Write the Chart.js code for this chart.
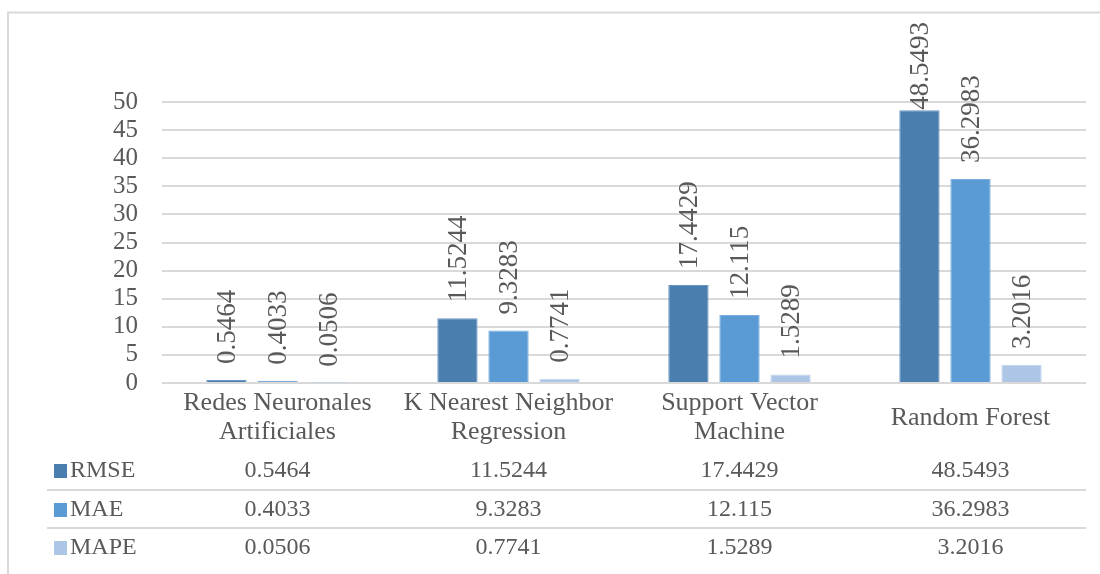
<!DOCTYPE html>
<html>
<head>
<meta charset="utf-8">
<script src="https://cdn.jsdelivr.net/npm/chart.js@4.4.1/dist/chart.umd.min.js"></script>
<style>
  html, body { margin: 0; padding: 0; background: #ffffff; }
  #wrap { width: 1100px; height: 574px; }
</style>
</head>
<body>
<div id="wrap"><canvas id="c" width="1100" height="574"></canvas></div>
<script>
// Model categories (each entry is the wrapped label lines)
const categories = [
  ['Redes Neuronales', 'Artificiales'],
  ['K Nearest Neighbor', 'Regression'],
  ['Support Vector', 'Machine'],
  ['Random Forest']
];
// Error metrics per model
const seriesNames = ['RMSE', 'MAE', 'MAPE'];
const rmse = [0.5464, 11.5244, 17.4429, 48.5493];
const mae  = [0.4033, 9.3283, 12.115, 36.2983];
const mape = [0.0506, 0.7741, 1.5289, 3.2016];
// Printed form of each value (as shown in labels and table)
const rmseText = ['0.5464', '11.5244', '17.4429', '48.5493'];
const maeText  = ['0.4033', '9.3283', '12.115', '36.2983'];
const mapeText = ['0.0506', '0.7741', '1.5289', '3.2016'];
const yTicks = [0, 5, 10, 15, 20, 25, 30, 35, 40, 45, 50];

const seriesValues = [rmse, mae, mape];
const seriesTexts = [rmseText, maeText, mapeText];
const fills = ['#4a7eaf', '#5a9ad5', '#adc6e6'];
const edges = ['#6a96c0', '#7aaedd', '#c2d5ec'];
const TEXT = '#595959';
const SERIF = '"Liberation Serif", "Times New Roman", serif';

const overlay = {
  id: 'overlay',
  beforeDraw(chart) {
    const ctx = chart.ctx;
    ctx.save();
    ctx.fillStyle = '#ffffff';
    ctx.fillRect(0, 0, chart.width, chart.height);
    ctx.strokeStyle = '#d9d9d9';
    ctx.lineWidth = 2;
    ctx.beginPath();
    ctx.moveTo(8, chart.height + 2);
    ctx.lineTo(8, 12.5);
    ctx.lineTo(chart.width + 2, 12.5);
    ctx.stroke();
    ctx.restore();
  },
  afterDraw(chart) {
    const ctx = chart.ctx;
    const xs = chart.scales.x;
    ctx.save();

    // rotated value labels above each bar
    ctx.font = '27px ' + SERIF;
    ctx.fillStyle = TEXT;
    ctx.textAlign = 'left';
    ctx.textBaseline = 'middle';
    chart.data.datasets.forEach((ds, di) => {
      const meta = chart.getDatasetMeta(di);
      meta.data.forEach((bar, i) => {
        const txt = seriesTexts[di][i];
        const w = ctx.measureText(txt).width;
        let start = bar.y - 16;
        if (start - w < 22) start = 22 + w;
        ctx.save();
        ctx.translate(bar.x + 1, start);
        ctx.rotate(-Math.PI / 2);
        ctx.fillText(txt, 0, 0);
        ctx.restore();
      });
    });

    // category labels under the axis
    ctx.font = '26px ' + SERIF;
    ctx.textAlign = 'center';
    categories.forEach((lines, i) => {
      const x = xs.getPixelForValue(i);
      if (lines.length === 1) {
        ctx.fillText(lines[0], x, 418);
      } else {
        lines.forEach((ln, k) => ctx.fillText(ln, x, 403 + k * 29.5));
      }
    });

    // data table
    const rowY = [471, 510, 548];
    ctx.strokeStyle = '#d9d9d9';
    ctx.lineWidth = 2;
    [490, 528].forEach(y => {
      ctx.beginPath();
      ctx.moveTo(47, y);
      ctx.lineTo(chart.chartArea.right, y);
      ctx.stroke();
    });
    ctx.font = '24px ' + SERIF;
    seriesNames.forEach((name, si) => {
      const y = rowY[si];
      ctx.fillStyle = fills[si];
      ctx.fillRect(54, y - 7, 13, 14);
      ctx.fillStyle = TEXT;
      ctx.textAlign = 'left';
      ctx.fillText(name, 70, y);
      ctx.textAlign = 'center';
      seriesTexts[si].forEach((t, i) => {
        ctx.fillText(t, xs.getPixelForValue(i), y);
      });
    });
    ctx.restore();
  }
};

new Chart(document.getElementById('c'), {
  type: 'bar',
  data: {
    labels: categories.map(c => c.join(' ')),
    datasets: seriesNames.map((n, i) => ({
      label: n,
      data: seriesValues[i],
      backgroundColor: fills[i],
      borderColor: edges[i],
      borderWidth: 1,
      categoryPercentage: 0.663,
      barPercentage: 0.79
    }))
  },
  options: {
    responsive: false,
    animation: false,
    layout: { padding: { top: 102, right: 14, left: 0, bottom: 0 } },
    plugins: { legend: { display: false }, tooltip: { enabled: false } },
    scales: {
      x: {
        ticks: { display: false },
        grid: { display: false },
        border: { display: false },
        afterFit(s) { s.height = 191; }
      },
      y: {
        min: 0,
        max: 50,
        afterBuildTicks(s) { s.ticks = yTicks.map(v => ({ value: v })); },
        ticks: {
          font: { family: SERIF, size: 25 },
          color: TEXT,
          padding: 24,
          autoSkip: false
        },
        grid: { color: '#d9d9d9', lineWidth: 2, drawTicks: false },
        border: { display: false },
        afterFit(s) { s.width = 162; }
      }
    }
  },
  plugins: [overlay]
});
</script>
</body>
</html>
